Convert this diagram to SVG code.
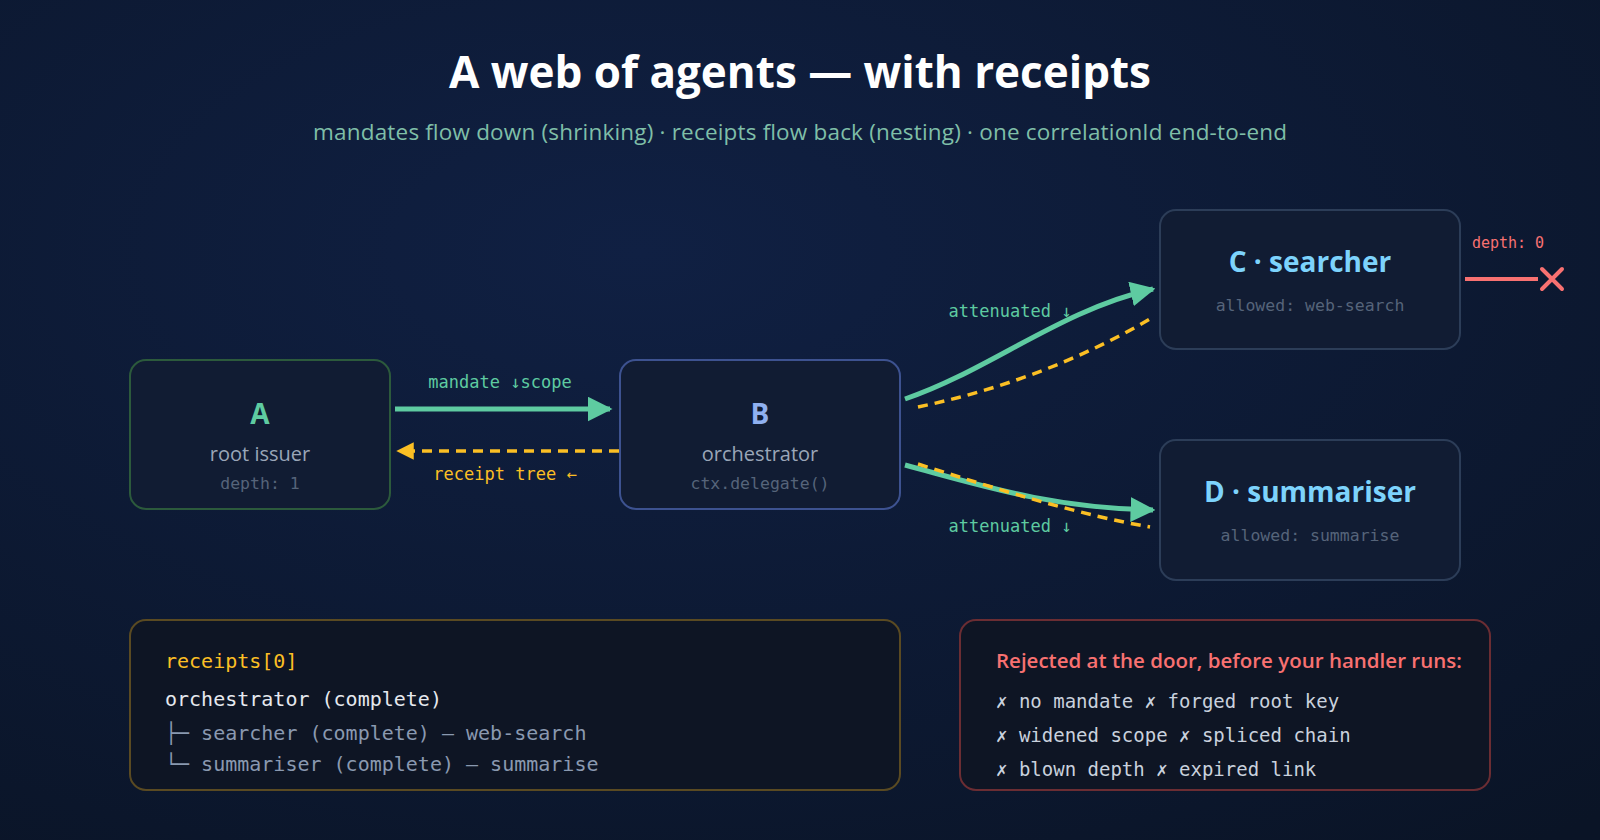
<svg xmlns="http://www.w3.org/2000/svg" width="1600" height="840" viewBox="0 0 1600 840">
<defs>
<radialGradient id="bg" cx="0.4" cy="0.3" r="0.9"><stop offset="0" stop-color="#102043"/><stop offset="1" stop-color="#0a1426"/></radialGradient>
<marker id="ag" viewBox="0 0 10 10" refX="9" refY="5" markerWidth="5" markerHeight="5" orient="auto"><path d="M0,0L10,5L0,10z" fill="#5ecba1"/></marker>
<marker id="ay" viewBox="0 0 10 10" refX="9" refY="5" markerWidth="5" markerHeight="5" orient="auto"><path d="M0,0L10,5L0,10z" fill="#fbbf24"/></marker>
<style>
.sans{font-family:"Open Sans","Noto Sans",sans-serif}
.mono{font-family:"DejaVu Sans Mono","Liberation Mono",monospace}
.box{fill:#111c33;stroke-width:2}
.t{font-size:28px;font-weight:700;text-anchor:middle}
.sub{font-size:20px;fill:#9aa6b8;text-anchor:middle}
.sm{font-size:16.5px;fill:#56647a;text-anchor:middle}
.g{fill:none;stroke:#5ecba1;stroke-width:5}
.y{fill:none;stroke:#fbbf24;stroke-width:3.5;stroke-dasharray:10 7}
.lg{font-size:17px;fill:#5ecba1}
</style>
</defs>
<rect width="1600" height="840" fill="url(#bg)"/>
<text x="800" y="88" class="sans" font-size="44" font-weight="700" fill="#ffffff" text-anchor="middle">A web of agents — with receipts</text>
<text x="800" y="140" class="sans" font-size="22.5" fill="#7fbfa8" text-anchor="middle" textLength="974">mandates flow down (shrinking) · receipts flow back (nesting) · one correlationId end-to-end</text>

<g id="connectors">
<path d="M395,409H610" class="g" marker-end="url(#ag)"/>
<text x="500" y="388" class="mono lg" text-anchor="middle">mandate ↓scope</text>
<path d="M619,451H398" class="y" marker-end="url(#ay)"/>
<text x="505" y="480" class="mono" font-size="17" fill="#fbbf24" text-anchor="middle">receipt tree ←</text>
<path d="M905,399C990,370 1060,310 1153,289" class="g" marker-end="url(#ag)"/>
<path d="M918,407C1000,390 1080,360 1150,319" class="y"/>
<text x="1010" y="317" class="mono lg" text-anchor="middle">attenuated ↓</text>
<path d="M905,465C980,485 1050,508 1153,510" class="g" marker-end="url(#ag)"/>
<path d="M918,464C1000,490 1080,515 1150,527" class="y"/>
<text x="1010" y="532" class="mono lg" text-anchor="middle">attenuated ↓</text>
<text x="1508" y="248" class="mono" font-size="15" fill="#f87171" text-anchor="middle">depth: 0</text>
<path d="M1465,279H1538" stroke="#f87171" stroke-width="4"/>
<path d="M1542,269L1562,289M1562,269L1542,289" stroke="#f87171" stroke-width="4" stroke-linecap="round"/>
</g>

<g id="nodeA"><rect x="130" y="360" width="260" height="149" rx="16" class="box" stroke="#2c5a3c"/>
<text x="260" y="424" class="sans t" fill="#5ecba1">A</text>
<text x="260" y="461" class="sans sub">root issuer</text>
<text x="260" y="489" class="mono sm">depth: 1</text></g>
<g id="nodeB"><rect x="620" y="360" width="280" height="149" rx="16" class="box" stroke="#3d5290"/>
<text x="760" y="424" class="sans t" fill="#8fb0f0">B</text>
<text x="760" y="461" class="sans sub">orchestrator</text>
<text x="760" y="489" class="mono sm">ctx.delegate()</text></g>
<g id="nodeC"><rect x="1160" y="210" width="300" height="139" rx="16" class="box" stroke="#2c3d58"/>
<text x="1310" y="272" class="sans t" fill="#7dd3fc">C · searcher</text>
<text x="1310" y="311" class="mono sm">allowed: web-search</text></g>
<g id="nodeD"><rect x="1160" y="440" width="300" height="140" rx="16" class="box" stroke="#2c3d58"/>
<text x="1310" y="502" class="sans t" fill="#7dd3fc">D · summariser</text>
<text x="1310" y="541" class="mono sm">allowed: summarise</text></g>

<g id="receipts"><rect x="130" y="620" width="770" height="170" rx="16" fill="#0e1524" stroke="#5a4a22" stroke-width="2"/>
<text x="165" y="668" class="mono" font-size="20" fill="#fbbf24">receipts[0]</text>
<text x="165" y="706" class="mono" font-size="20" fill="#e6e9ef">orchestrator (complete)</text>
<text x="165" y="740" class="mono" font-size="20" fill="#8a99b0">├─ searcher (complete) — web-search</text>
<text x="165" y="771" class="mono" font-size="20" fill="#8a99b0">└─ summariser (complete) — summarise</text></g>
<g id="rejected"><rect x="960" y="620" width="530" height="170" rx="16" fill="#0e1524" stroke="#6b2d33" stroke-width="2"/>
<text x="996" y="668" class="sans" font-size="20.5" font-weight="600" fill="#f87171">Rejected at the door, before your handler runs:</text>
<text x="996" y="708" class="mono" font-size="19" fill="#c9d1dd">✗ no mandate ✗ forged root key</text>
<text x="996" y="742" class="mono" font-size="19" fill="#c9d1dd">✗ widened scope ✗ spliced chain</text>
<text x="996" y="776" class="mono" font-size="19" fill="#c9d1dd">✗ blown depth ✗ expired link</text></g>
</svg>
